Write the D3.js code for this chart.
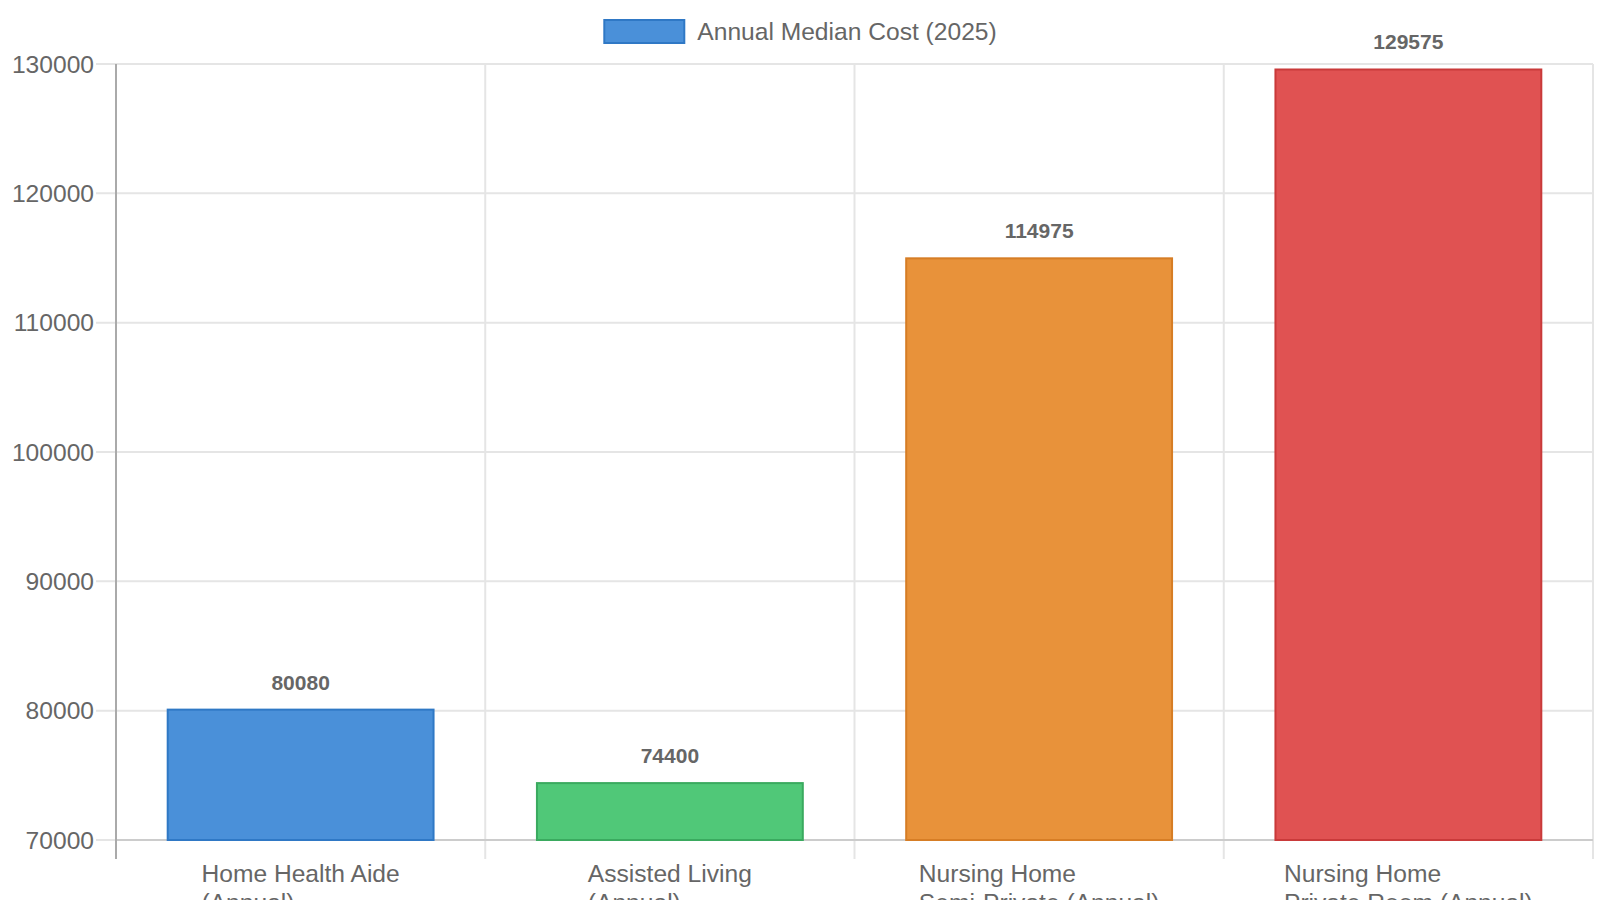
<!DOCTYPE html>
<html>
<head>
    <title>Annual Median Cost</title>
    <script src="https://d3js.org/d3.v7.min.js"></script>
    <style>
        body { margin: 0; background: #fff; }
        svg { display: block; font-family: "Liberation Sans", Arial, sans-serif; }
        .grid line { stroke: #e5e5e5; stroke-width: 2; }
        .tick-label { font-size: 24.6px; fill: #666; }
        .value-label { font-size: 21px; font-weight: bold; fill: #666; }
    </style>
</head>
<body>
    <svg width="1600" height="900"></svg>

    <script>
        // Data
        const categories = [
            ["Home Health Aide", "(Annual)"],
            ["Assisted Living", "(Annual)"],
            ["Nursing Home", "Semi-Private (Annual)"],
            ["Nursing Home", "Private Room (Annual)"]
        ];
        const values = [80080, 74400, 114975, 129575];
        const fills = ["#4a90d9", "#50c878", "#e8923a", "#e05252"];
        const borders = ["#2f78c5", "#3aaa5f", "#d67d25", "#c93a3a"];
        const yTicks = [70000, 80000, 90000, 100000, 110000, 120000, 130000];
        const seriesName = "Annual Median Cost (2025)";

        const svg = d3.select("svg");
        const plotLeft = 116, plotRight = 1593, plotTop = 64, plotBottom = 840;

        const x = d3.scaleBand()
            .domain(d3.range(categories.length))
            .range([plotLeft, plotRight])
            .paddingInner(0)
            .paddingOuter(0);

        const y = d3.scaleLinear()
            .domain([70000, 130000])
            .range([plotBottom, plotTop]);

        // Horizontal grid + tick marks on the left
        const grid = svg.append("g").attr("class", "grid");
        grid.selectAll("line.h")
            .data(yTicks)
            .enter().append("line")
            .attr("class", "h")
            .attr("x1", plotLeft - 20)
            .attr("x2", plotRight)
            .attr("y1", d => y(d))
            .attr("y2", d => y(d));

        // Vertical grid lines at category boundaries, running down as ticks
        const bounds = d3.range(1, categories.length).map(i => x(i)).concat([plotRight]);
        grid.selectAll("line.v")
            .data(bounds)
            .enter().append("line")
            .attr("class", "v")
            .attr("x1", d => d)
            .attr("x2", d => d)
            .attr("y1", plotTop)
            .attr("y2", plotBottom + 19);

        // Y tick labels
        svg.append("g").selectAll("text")
            .data(yTicks)
            .enter().append("text")
            .attr("class", "tick-label")
            .attr("x", plotLeft - 22)
            .attr("y", d => y(d))
            .attr("dy", "0.35em")
            .attr("text-anchor", "end")
            .text(d => d);

        // Axis lines
        svg.append("line")
            .attr("x1", plotLeft).attr("x2", plotRight)
            .attr("y1", plotBottom).attr("y2", plotBottom)
            .attr("stroke", "#cccccc").attr("stroke-width", 2);
        svg.append("line")
            .attr("x1", plotLeft).attr("x2", plotLeft)
            .attr("y1", plotTop).attr("y2", plotBottom + 19)
            .attr("stroke", "#aaaaaa").attr("stroke-width", 2);

        // Bars
        const bw = x.bandwidth() * 0.72;
        svg.append("g").selectAll("rect")
            .data(values)
            .enter().append("rect")
            .attr("x", (d, i) => x(i) + (x.bandwidth() - bw) / 2)
            .attr("y", d => y(d))
            .attr("width", bw)
            .attr("height", d => plotBottom - y(d))
            .attr("fill", (d, i) => fills[i])
            .attr("stroke", (d, i) => borders[i])
            .attr("stroke-width", 2);

        // Value labels
        svg.append("g").selectAll("text")
            .data(values)
            .enter().append("text")
            .attr("class", "value-label")
            .attr("x", (d, i) => x(i) + x.bandwidth() / 2)
            .attr("y", d => y(d) - 20)
            .attr("text-anchor", "middle")
            .text(d => d);

        // Category labels: lines left aligned, block centred on the band
        const cat = svg.append("g").selectAll("text")
            .data(categories)
            .enter().append("text")
            .attr("class", "tick-label");
        cat.each(function(lines, i) {
            const t = d3.select(this);
            lines.forEach(ln => t.append("tspan").text(ln));
            const spans = t.selectAll("tspan").nodes();
            const maxW = d3.max(spans, s => s.getComputedTextLength());
            const x0 = x(i) + x.bandwidth() / 2 - maxW / 2;
            t.selectAll("tspan")
                .attr("x", x0)
                .attr("y", (d, k) => 882 + k * 29);
        });

        // Legend
        const legend = svg.append("g");
        const lt = legend.append("text")
            .attr("class", "tick-label")
            .attr("y", 40)
            .text(seriesName);
        const tw = lt.node().getComputedTextLength();
        const total = 82 + 12 + tw;
        const lx = 800 - total / 2;
        legend.append("rect")
            .attr("x", lx + 1).attr("y", 20)
            .attr("width", 80).attr("height", 23)
            .attr("fill", fills[0])
            .attr("stroke", borders[0])
            .attr("stroke-width", 2);
        lt.attr("x", lx + 94);
    </script>
</body>
</html>
